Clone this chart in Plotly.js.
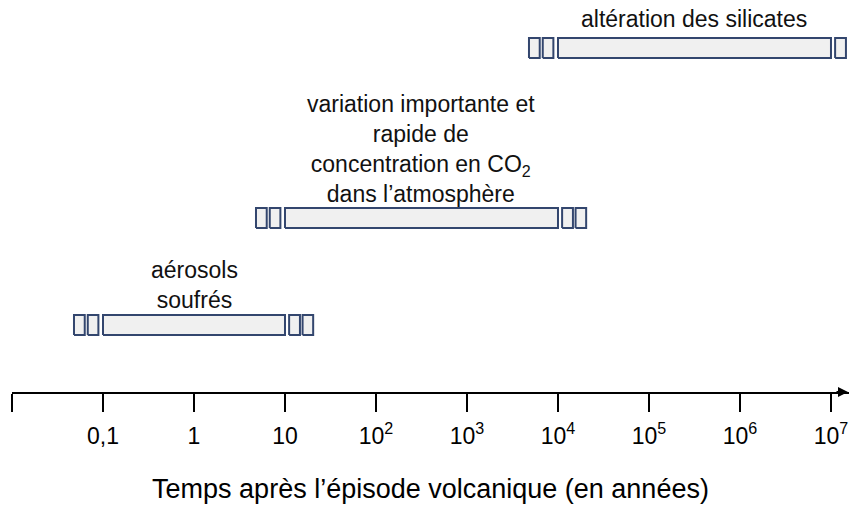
<!DOCTYPE html>
<html>
<head>
<meta charset="utf-8">
<script src="https://cdn.plot.ly/plotly-3.0.1.min.js"></script>
<style>
  html, body { margin: 0; padding: 0; background: #ffffff; }
  #chart { width: 849px; height: 506px; }
</style>
</head>
<body>
<div id="chart"></div>
<script>
// ---- Data ----
const phenomena = [
  'aérosols<br>soufrés',
  'variation importante et<br>rapide de<br>concentration en CO<sub>2</sub><br>dans l’atmosphère',
  'altération des silicates'
];
const startYears = [0.1, 10, 1e4];
const endYears = [10, 1e4, 1e7];

// small uncertainty boxes at the ends of each period (row index, start, end in years)
const boxRow   = [0, 0, 0, 0, 1, 1, 1, 1, 2, 2, 2];
const boxStart = [0.048, 0.068, 11.1, 15.6, 4.8, 6.8, 11100, 15600, 4800, 6800, 1.11e7];
const boxEnd   = [0.063, 0.089, 14.6, 20.4, 6.3, 8.9, 14600, 20400, 6300, 8900, 1.46e7];

const tickValues = [0.01, 0.1, 1, 10, 100, 1000, 1e4, 1e5, 1e6, 1e7];
const tickLabels = ['', '0,1', '1', '10', '10<sup>2</sup>', '10<sup>3</sup>', '10<sup>4</sup>', '10<sup>5</sup>', '10<sup>6</sup>', '10<sup>7</sup>'];

const axisTitle = 'Temps après l’épisode volcanique (en années)';

// ---- Layout constants (not data) ----
const rowCenter = [67, 174, 344];  // vertical position of each row (px above the axis)
const labelLift = [0, -1, 4];      // extra gap between each label and its bar
const halfH = 10;
const FONT = 'Liberation Sans, Arial, sans-serif';
const edgeColor = '#33466e';
const fillColor = '#f0f0f0';

function rect(x0, x1, yc) {
  return {
    type: 'scatter', mode: 'lines',
    x: [x0, x1, x1, x0, x0],
    y: [yc - halfH, yc - halfH, yc + halfH, yc + halfH, yc - halfH],
    fill: 'toself', fillcolor: fillColor,
    line: { color: edgeColor, width: 2 },
    hoverinfo: 'skip', showlegend: false
  };
}

const traces = [];
for (let i = 0; i < startYears.length; i++) {
  traces.push(rect(startYears[i], endYears[i], rowCenter[i]));
}
for (let j = 0; j < boxRow.length; j++) {
  traces.push(rect(boxStart[j], boxEnd[j], rowCenter[boxRow[j]]));
}

const annotations = phenomena.map((txt, i) => ({
  xref: 'x', yref: 'y',
  x: (Math.log10(startYears[i]) + Math.log10(endYears[i])) / 2,
  y: rowCenter[i] + halfH + labelLift[i],
  yanchor: 'bottom', xanchor: 'center',
  text: txt, showarrow: false,
  font: { family: FONT, size: 23, color: '#111111' }
}));

// arrow head at the right end of the time axis
annotations.push({
  xref: 'paper', yref: 'paper', x: 1, y: 0,
  ax: -14, ay: 0, axref: 'pixel', ayref: 'pixel',
  text: '', showarrow: true, arrowhead: 2, arrowsize: 1, arrowwidth: 2,
  arrowcolor: '#000000'
});

const layout = {
  width: 849, height: 506,
  margin: { l: 12, r: 0, t: 0, b: 114 },
  paper_bgcolor: '#ffffff', plot_bgcolor: '#ffffff',
  showlegend: false, hovermode: false,
  font: { family: FONT, size: 20, color: '#000000' },
  xaxis: {
    type: 'log', range: [-2, 7.198],
    showline: true, linecolor: '#000000', linewidth: 2,
    ticks: 'outside', ticklen: 18, tickwidth: 2, tickcolor: '#000000',
    tickvals: tickValues, ticktext: tickLabels,
    ticklabelstandoff: 4,
    tickfont: { family: FONT, size: 23, color: '#000000' },
    showgrid: false, zeroline: false, fixedrange: true,
    title: { text: axisTitle, standoff: 32, font: { family: FONT, size: 27, color: '#000000' } }
  },
  yaxis: { visible: false, range: [0, 392], fixedrange: true },
  annotations: annotations
};

Plotly.newPlot('chart', traces, layout, { displayModeBar: false });
</script>
</body>
</html>
